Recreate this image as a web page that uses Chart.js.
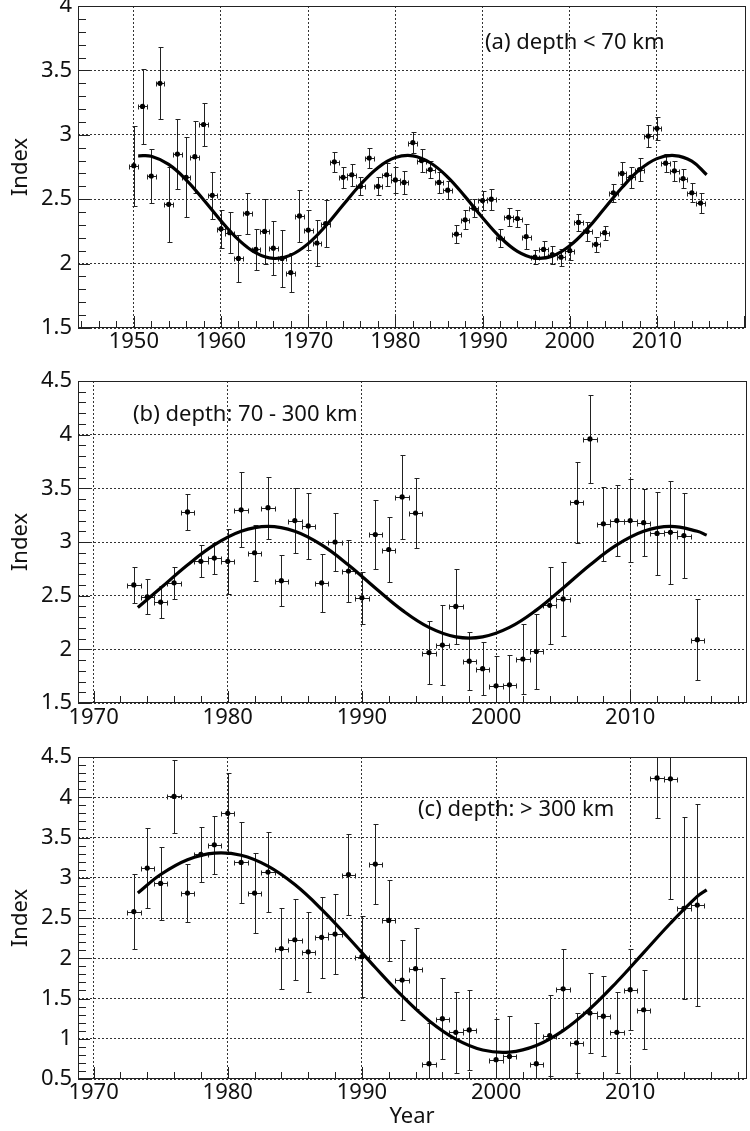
<!DOCTYPE html>
<html>
<head>
<meta charset="utf-8">
<script src="https://cdn.jsdelivr.net/npm/chart.js@4.4.1/dist/chart.umd.min.js"></script>
<style>
  body { margin: 0; background: #fff; }
  .panel { position: absolute; left: 0; width: 750px; }
</style>
</head>
<body>
<div class="panel" style="top:0px"><canvas id="chartA" width="750" height="365"></canvas></div>
<div class="panel" style="top:365px"><canvas id="chartB" width="750" height="370"></canvas></div>
<div class="panel" style="top:735px"><canvas id="chartC" width="750" height="396"></canvas></div>
<script>
// (a) depth < 70 km
const yearsA = [1950,1951,1952,1953,1954,1955,1956,1957,1958,1959,1960,1961,1962,1963,1964,1965,1966,1967,1968,1969,
  1970,1971,1972,1973,1974,1975,1976,1977,1978,1979,1980,1981,1982,1983,1984,1985,1986,1987,1988,1989,
  1990,1991,1992,1993,1994,1995,1996,1997,1998,1999,2000,2001,2002,2003,2004,2005,2006,2007,2008,2009,
  2010,2011,2012,2013,2014,2015];
const indexA = [2.76,3.22,2.68,3.40,2.46,2.85,2.67,2.83,3.08,2.53,2.27,2.24,2.04,2.39,2.11,2.25,2.12,2.04,1.93,2.37,
  2.26,2.16,2.31,2.79,2.67,2.69,2.60,2.82,2.60,2.69,2.65,2.63,2.94,2.80,2.73,2.63,2.57,2.23,2.34,2.43,
  2.49,2.50,2.20,2.36,2.35,2.21,2.05,2.11,2.07,2.05,2.10,2.32,2.25,2.15,2.24,2.55,2.70,2.67,2.73,2.99,
  3.05,2.78,2.72,2.66,2.55,2.47];
const errA = [0.31,0.29,0.21,0.28,0.29,0.27,0.31,0.28,0.17,0.18,0.15,0.16,0.18,0.16,0.16,0.25,0.21,0.22,0.15,0.20,
  0.155,0.18,0.18,0.08,0.08,0.085,0.07,0.075,0.07,0.09,0.10,0.09,0.085,0.09,0.065,0.08,0.07,0.07,0.075,0.07,
  0.07,0.08,0.07,0.07,0.065,0.10,0.055,0.065,0.07,0.065,0.07,0.065,0.075,0.06,0.055,0.07,0.085,0.08,0.087,0.085,
  0.087,0.068,0.077,0.075,0.072,0.075];
const fitYearsA = [1950.5,1952,1954,1956,1958,1960,1962,1964,1966,1968,1970,1972,1974,1976,1978,1980,1982,
  1984,1986,1988,1990,1992,1994,1996,1998,2000,2002,2004,2006,2008,2010,2012,2014,2015.7];
const fitA = [2.837,2.833,2.770,2.651,2.496,2.332,2.186,2.083,2.040,2.066,2.155,2.292,2.455,2.614,2.745,2.823,2.837,
  2.783,2.672,2.520,2.356,2.206,2.095,2.043,2.058,2.138,2.269,2.430,2.591,2.728,2.815,2.839,2.796,2.69];

// (b) depth: 70 - 300 km
const yearsB = [1973,1974,1975,1976,1977,1978,1979,1980,1981,1982,1983,1984,1985,1986,1987,1988,1989,1990,1991,1992,
  1993,1994,1995,1996,1997,1998,1999,2000,2001,2002,2003,2004,2005,2006,2007,2008,2009,2010,2011,2012,
  2013,2014,2015];
const indexB = [2.60,2.49,2.44,2.62,3.28,2.82,2.85,2.82,3.30,2.90,3.32,2.64,3.20,3.15,2.62,3.00,2.73,2.48,3.07,2.93,
  3.42,3.27,1.97,2.04,2.40,1.89,1.82,1.66,1.67,1.91,1.98,2.41,2.47,3.37,3.96,3.17,3.20,3.20,3.18,3.08,
  3.09,3.06,2.09];
const errB = [0.165,0.165,0.15,0.15,0.17,0.15,0.145,0.30,0.35,0.26,0.29,0.24,0.30,0.31,0.27,0.27,0.29,0.24,0.32,0.30,
  0.39,0.33,0.29,0.37,0.35,0.27,0.25,0.28,0.28,0.33,0.35,0.36,0.345,0.38,0.41,0.345,0.33,0.385,0.31,0.385,
  0.48,0.395,0.375];
const fitYearsB = [1973.3,1975,1977,1979,1981,1983,1985,1987,1989,1991,1993,1995,1997,1999,2001,2003,2005,2007,
  2009,2011,2013,2015,2015.7];
const fitB = [2.39,2.571,2.786,2.973,3.100,3.145,3.100,2.973,2.786,2.571,2.365,2.204,2.116,2.116,2.204,2.365,2.571,2.786,
  2.973,3.100,3.145,3.100,3.064];

// (c) depth: > 300 km
const yearsC = [1973,1974,1975,1976,1977,1978,1979,1980,1981,1982,1983,1984,1985,1986,1987,1988,1989,1990,1991,1992,
  1993,1994,1995,1996,1997,1998,2000,2001,2003,2004,2005,2006,2007,2008,2009,2010,2011,2012,2013,2014,2015];
const indexC = [2.58,3.12,2.93,4.01,2.81,3.29,3.41,3.80,3.19,2.81,3.07,2.12,2.23,2.08,2.26,2.30,3.04,2.02,3.17,2.47,
  1.73,1.87,0.69,1.25,1.08,1.11,0.74,0.78,0.69,1.04,1.62,0.95,1.32,1.28,1.08,1.61,1.36,4.24,4.23,2.62,2.66];
const errC = [0.465,0.50,0.455,0.45,0.355,0.34,0.36,0.50,0.50,0.50,0.50,0.50,0.50,0.50,0.50,0.50,0.50,0.50,0.50,0.50,
  0.50,0.50,0.50,0.50,0.50,0.50,0.50,0.50,0.50,0.50,0.50,0.37,0.50,0.50,0.50,0.50,0.49,0.50,1.50,1.13,1.25];
const fitYearsC = [1973.3,1975,1977,1979,1981,1983,1985,1987,1989,1991,1993,1995,1997,1999,2001,2003,2005,2007,
  2009,2011,2013,2015,2015.7];
const fitC = [2.81,3.04,3.224,3.306,3.279,3.144,2.915,2.608,2.255,1.885,1.532,1.225,0.996,0.861,0.834,0.916,1.101,1.372,
  1.705,2.07,2.435,2.768,2.85];

Chart.defaults.font.family = "'Noto Sans', sans-serif";
Chart.defaults.color = '#111';

const labelFont = { size: 22 };

// error bars in x (one year bins) and y
const errorBars = {
  id: 'errorBars',
  beforeDatasetsDraw(chart) {
    const { ctx, chartArea: a, scales: { x, y } } = chart;
    const ds = chart.data.datasets[0];
    ctx.save();
    ctx.beginPath();
    ctx.rect(a.left, a.top, a.right - a.left, a.bottom - a.top);
    ctx.clip();
    ctx.strokeStyle = '#222';
    ctx.lineWidth = 1;
    ds.data.forEach((p, i) => {
      const e = ds.yErr[i];
      const px = Math.round(x.getPixelForValue(p.x)) + 0.5;
      const py = Math.round(y.getPixelForValue(p.y)) + 0.5;
      const top = Math.round(y.getPixelForValue(p.y + e)) + 0.5;
      const bot = Math.round(y.getPixelForValue(p.y - e)) + 0.5;
      const l = Math.round(x.getPixelForValue(p.x - 0.5)) + 0.5;
      const r = Math.round(x.getPixelForValue(p.x + 0.5)) + 0.5;
      ctx.beginPath();
      ctx.moveTo(px, top); ctx.lineTo(px, bot);
      ctx.moveTo(px - 2, top); ctx.lineTo(px + 3, top);
      ctx.moveTo(px - 2, bot); ctx.lineTo(px + 3, bot);
      ctx.moveTo(l, py); ctx.lineTo(r, py);
      ctx.moveTo(l, py - 2); ctx.lineTo(l, py + 3);
      ctx.moveTo(r, py - 2); ctx.lineTo(r, py + 3);
      ctx.stroke();
    });
    ctx.restore();
  }
};

// frame, inner ticks and the panel caption
const frame = {
  id: 'frame',
  afterDraw(chart, args, opts) {
    const { ctx, chartArea: a, scales: { x, y } } = chart;
    ctx.save();
    ctx.strokeStyle = '#222';
    ctx.lineWidth = 1;
    ctx.strokeRect(Math.round(a.left) + 0.5, Math.round(a.top) + 0.5,
      Math.round(a.right - a.left), Math.round(a.bottom - a.top) - 1);
    ctx.beginPath();
    for (let k = Math.ceil(x.min / 2); k * 2 <= x.max; k++) {
      const px = Math.round(x.getPixelForValue(k * 2)) + 0.5;
      const len = (k * 2) % 10 === 0 ? 12 : 7;
      ctx.moveTo(px, a.bottom); ctx.lineTo(px, a.bottom - len);
    }
    for (let k = Math.ceil(y.min * 10 - 1e-6); k <= y.max * 10 + 1e-6; k++) {
      const py = Math.round(y.getPixelForValue(k / 10)) + 0.5;
      const len = k % 5 === 0 ? 12 : 8;
      ctx.moveTo(a.left, py); ctx.lineTo(a.left + len, py);
    }
    ctx.stroke();
    ctx.fillStyle = '#111';
    ctx.font = "22px 'Noto Sans'";
    ctx.textBaseline = 'middle';
    ctx.fillText(opts.text, opts.x, opts.y);
    ctx.restore();
  }
};

function makePanel(id, p) {
  const pts = p.years.map((t, i) => ({ x: t, y: p.vals[i] }));
  const fit = p.fitYears.map((t, i) => ({ x: t, y: p.fit[i] }));
  return new Chart(document.getElementById(id), {
    type: 'scatter',
    data: {
      datasets: [{
        data: pts,
        yErr: p.err,
        pointRadius: 2.6,
        pointBackgroundColor: '#000',
        pointBorderWidth: 0,
        order: 2
      }, {
        data: fit,
        showLine: true,
        borderColor: '#000',
        borderWidth: 3.2,
        pointRadius: 0,
        tension: 0.4,
        order: 1
      }]
    },
    options: {
      responsive: false,
      animation: false,
      events: [],
      layout: { padding: { top: p.padTop, right: p.padRight, left: 0, bottom: 0 } },
      plugins: {
        legend: { display: false },
        tooltip: { enabled: false },
        frame: { text: p.caption, x: p.capX, y: p.capY }
      },
      scales: {
        x: {
          type: 'linear',
          min: p.xMin,
          max: p.xMax,
          afterBuildTicks: s => {
            s.ticks = s.ticks.filter(t => t.value % 10 === 0 && t.value > p.xMin && t.value < p.xMax - 1);
          },
          ticks: { stepSize: 10, includeBounds: false, autoSkip: false, maxRotation: 0, padding: p.xPad,
            font: labelFont, color: '#111', callback: v => String(v) },
          grid: { color: '#333', lineWidth: 1, drawTicks: false },
          border: { display: false, dash: [2, 2] },
          title: { display: !!p.xTitle, text: p.xTitle || '', font: labelFont, color: '#111', padding: { top: 0, bottom: 1 } },
          afterFit: s => { s.height = p.xHeight; s.paddingLeft = 0; s.paddingRight = 0; s.paddingTop = 0; s.paddingBottom = 0; }
        },
        y: {
          min: p.yMin,
          max: p.yMax,
          ticks: { stepSize: 0.5, padding: 6, font: labelFont, color: '#111', callback: v => String(v) },
          grid: { color: '#333', lineWidth: 1, drawTicks: false },
          border: { display: false, dash: [2, 2] },
          title: { display: true, text: 'Index', font: labelFont, color: '#111', padding: { top: 8, bottom: 0 } },
          afterFit: s => { s.width = 78; s.paddingTop = 0; s.paddingBottom = 0; s.paddingLeft = 0; s.paddingRight = 0; }
        }
      }
    },
    plugins: [errorBars, frame]
  });
}

makePanel('chartA', {
  years: yearsA, vals: indexA, err: errA, fitYears: fitYearsA, fit: fitA,
  xMin: 1943.6, xMax: 2020.1, yMin: 1.5, yMax: 4,
  padTop: 6, padRight: 5, xHeight: 37, xPad: 1,
  caption: '(a) depth < 70 km', capX: 485, capY: 43
});
makePanel('chartB', {
  years: yearsB, vals: indexB, err: errB, fitYears: fitYearsB, fit: fitB,
  xMin: 1968.84, xMax: 2018.63, yMin: 1.5, yMax: 4.5,
  padTop: 16, padRight: 0, xHeight: 32, xPad: 2,
  caption: '(b) depth: 70 - 300 km', capX: 133, capY: 50
});
makePanel('chartC', {
  years: yearsC, vals: indexC, err: errC, fitYears: fitYearsC, fit: fitC,
  xMin: 1968.84, xMax: 2018.63, yMin: 0.5, yMax: 4.5,
  padTop: 22, padRight: 0, xHeight: 52, xPad: 1, xTitle: 'Year',
  caption: '(c) depth: > 300 km', capX: 418, capY: 75
});
</script>
</body>
</html>
